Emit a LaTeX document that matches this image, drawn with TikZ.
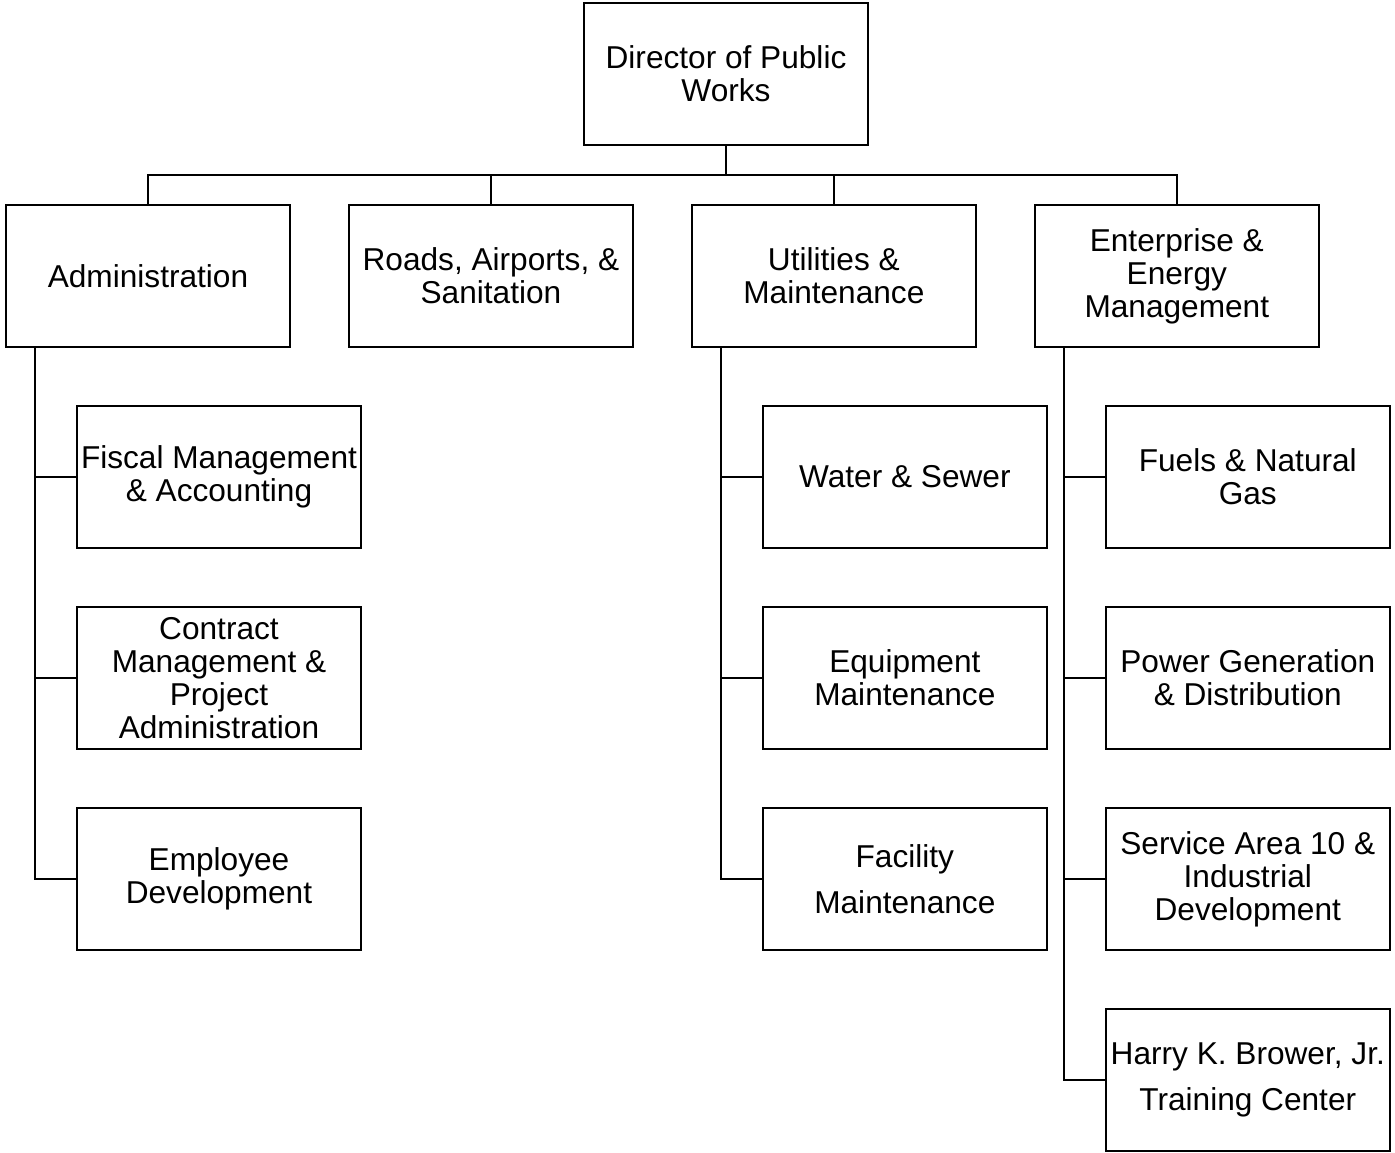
\documentclass[tikz,border=0pt]{standalone}
\usepackage{fontspec}
\setmainfont{Liberation Sans}
\usetikzlibrary{positioning}

\tikzset{
  unit/.style={draw, line width=1.1pt, minimum width=5.68cm, minimum height=2.84cm,
    align=center, inner sep=1pt, outer sep=0pt, font=\fontsize{18}{18.8}\selectfont},
  link/.style={line width=1.1pt},
}

\begin{document}
\begin{tikzpicture}[x=0.02cm, y=-0.02cm]
  \useasboundingbox (0,0) rectangle (1395,1152);
  % head of the department
  \node[unit] (dir) at (726,74) {Director of Public\\Works};
  % divisions (one row)
  \node[unit]                      (adm) at (148,276) {Administration};
  \node[unit, right=1.18cm of adm] (rds) {Roads, Airports, \&\\Sanitation};
  \node[unit, right=1.18cm of rds] (utl) {Utilities \&\\Maintenance};
  \node[unit, right=1.18cm of utl] (ent) {Enterprise \&\\Energy\\Management};
  % sections under administration
  \node[unit, below=1.18cm of adm, xshift=1.42cm] (fis) {Fiscal Management\\\& Accounting};
  \node[unit, below=1.18cm of fis]                (con) {Contract\\Management \&\\Project\\Administration};
  \node[unit, below=1.18cm of con]                (emp) {Employee\\Development};
  % sections under utilities
  \node[unit, below=1.18cm of utl, xshift=1.42cm] (wat) {Water \& Sewer};
  \node[unit, below=1.18cm of wat]                (eqp) {Equipment\\Maintenance};
  \node[unit, below=1.18cm of eqp]                (fac) {Facility\\[7.4pt]Maintenance};
  % sections under enterprise
  \node[unit, below=1.18cm of ent, xshift=1.42cm] (fue) {Fuels \& Natural\\Gas};
  \node[unit, below=1.18cm of fue]                (pow) {Power Generation\\\& Distribution};
  \node[unit, below=1.18cm of pow]                (sva) {Service Area 10 \&\\Industrial\\Development};
  \node[unit, below=1.18cm of sva]                (trn) {Harry K. Brower, Jr.\\[7.4pt]Training Center};
  % bus from the director to the divisions
  \draw[link] (dir.south) -- ++(0,30) coordinate (bus);
  \foreach \d in {adm,rds,utl,ent}
    \draw[link] (\d.north) |- (bus);
  % spines down to the sections
  \draw[link] ([xshift=0.58cm]adm.south west) |- (emp.west);
  \draw[link] ([xshift=0.58cm]utl.south west) |- (fac.west);
  \draw[link] ([xshift=0.58cm]ent.south west) |- (trn.west);
  \foreach \s in {fis,con,wat,eqp,fue,pow,sva}
    \draw[link] (\s.west) -- ++(-0.84cm,0);
\end{tikzpicture}
\end{document}
